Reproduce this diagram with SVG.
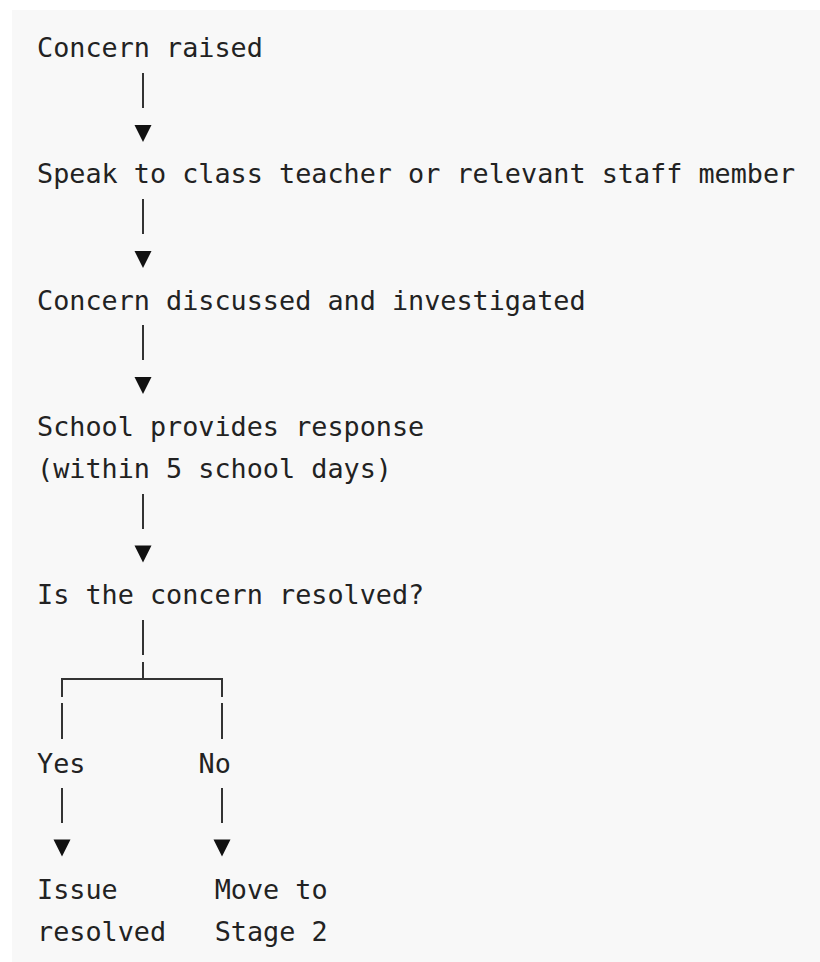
<svg xmlns="http://www.w3.org/2000/svg" width="820" height="962" viewBox="0 0 820 962">
<style>
.t{font-family:"DejaVu Sans Mono","Liberation Mono",monospace;font-size:26.8px;fill:#222;}
.c{stroke:#333;stroke-width:2;fill:none;}
.a{fill:#111;}
</style>
<defs>
<polygon id="tri" points="-8.5,-8.5 8.5,-8.5 0,8.5"/>
</defs>
<rect x="12" y="10" width="808" height="952" fill="#f8f8f8"/>
<g id="connectors">
<line class="c" x1="143" y1="73" x2="143" y2="108"/>
<use href="#tri" class="a" x="143" y="133.5"/>
<line class="c" x1="143" y1="199" x2="143" y2="234"/>
<use href="#tri" class="a" x="143" y="259.5"/>
<line class="c" x1="143" y1="325" x2="143" y2="360"/>
<use href="#tri" class="a" x="143" y="385.5"/>
<line class="c" x1="143" y1="494" x2="143" y2="529"/>
<use href="#tri" class="a" x="143" y="554"/>
<line class="c" x1="143" y1="620" x2="143" y2="655"/>
<polyline class="c" points="62,697 62,679 222,679 222,697"/>
<line class="c" x1="143" y1="662" x2="143" y2="679"/>
<line class="c" x1="62" y1="703" x2="62" y2="739"/>
<line class="c" x1="222" y1="703" x2="222" y2="739"/>
<line class="c" x1="62" y1="788" x2="62" y2="823"/>
<line class="c" x1="222" y1="788" x2="222" y2="823"/>
<use href="#tri" class="a" x="62" y="848"/>
<use href="#tri" class="a" x="222" y="848"/>
</g>
<g id="n1"><text class="t" x="37" y="57">Concern raised</text></g>
<g id="n2"><text class="t" x="37" y="183.3">Speak to class teacher or relevant staff member</text></g>
<g id="n3"><text class="t" x="37" y="309.6">Concern discussed and investigated</text></g>
<g id="n4"><text class="t" x="37" y="435.9">School provides response</text><text class="t" x="37" y="478">(within 5 school days)</text></g>
<g id="n5"><text class="t" x="37" y="604.3">Is the concern resolved?</text></g>
<g id="yes"><text class="t" x="37" y="772.7">Yes</text></g>
<g id="no"><text class="t" x="198.5" y="772.7">No</text></g>
<g id="n6"><text class="t" x="37" y="899">Issue</text><text class="t" x="37" y="941.1">resolved</text></g>
<g id="n7"><text class="t" x="214.7" y="899">Move to</text><text class="t" x="214.7" y="941.1">Stage 2</text></g>
</svg>
